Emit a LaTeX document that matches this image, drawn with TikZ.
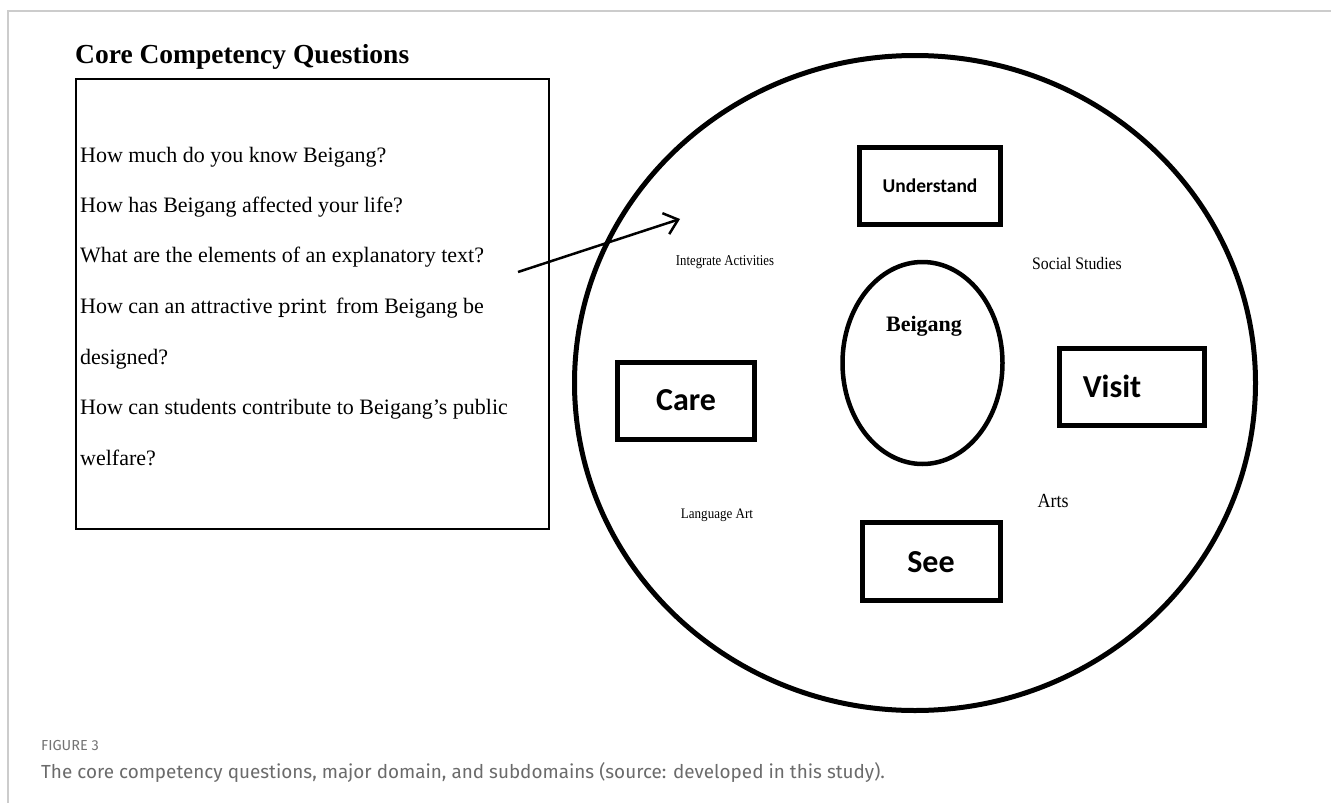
\documentclass[tikz,border=0pt]{standalone}
\usepackage{fontspec}
\setmainfont{Liberation Serif}
\newfontfamily\calfont{Carlito}
\newfontfamily\capfont{Fira Sans}
\newfontfamily\dvsfont{DejaVu Serif}
\usetikzlibrary{arrows.meta,shapes.geometric}
\begin{document}
\begin{tikzpicture}[x=1pt,y=-1pt,
  qline/.style={anchor=base west, inner sep=0pt, font=\fontsize{22}{26}\selectfont},
  dbox/.style={draw, line width=5pt, inner sep=0pt, minimum height=77pt},
  lbl/.style={inner sep=0pt, font=\calfont\bfseries\fontsize{32}{36}\selectfont},
  sublbl/.style={inner sep=0pt, anchor=center}
]
\useasboundingbox (0,0) rectangle (1331,803);
% page frame
\draw[line width=2pt, black!20] (8,803) -- (8,11) -- (1331,11);

% title and questions
\node[anchor=base west, inner sep=0pt, font=\bfseries\fontsize{27.5}{30}\selectfont] (title) at (75,63) {Core Competency Questions};
\node[draw, line width=2pt, minimum width=473pt, minimum height=450pt, inner sep=0pt] (qbox) at (312.5,304) {};
\node[qline] (q1) at (80,162) {How much do you know Beigang?};
\node[qline] (q2) at (80,212) {How has Beigang affected your life?};
\node[qline] (q3) at (80,262) {What are the elements of an explanatory text?};
\node[qline] (q4) at (80,313) {How can an attractive {\dvsfont\fontsize{19.5}{22}\selectfont print}\hspace{4pt} from Beigang be};
\node[qline] (q5) at (80,364) {designed?};
\node[qline] (q6) at (80,414) {How can students contribute to Beigang’s public};
\node[qline] (q7) at (80,465) {welfare?};

% domain circle
\node[draw, ellipse, line width=5pt, minimum width=681pt, minimum height=655pt, inner sep=0pt] (domain) at (915,383) {};
\node[draw, ellipse, line width=4.5pt, minimum width=160pt, minimum height=202pt, inner sep=0pt] (core) at (922.5,363) {};
\node[inner sep=0pt, font=\bfseries\fontsize{22}{26}\selectfont] (corelbl) at (924,326) {Beigang};

% boxes
\node[dbox, minimum width=141pt] (understand) at (930,186) {\calfont\bfseries\fontsize{19.5}{22}\selectfont Understand};
\node[dbox, minimum width=137pt] (care) at (686,401) {};
\node[lbl] (carelbl) at (686,400) {Care};
\node[dbox, minimum width=145pt] (visit) at (1132,387) {};
\node[lbl] (visitlbl) at (1112,386) {Visit};
\node[dbox, minimum width=138pt, minimum height=78pt] (see) at (931.5,561.5) {};
\node[lbl] (seelbl) at (931,562) {See};

% subdomain labels
\node[sublbl] (integ) at (725,262) {\scalebox{0.85}[1]{\fontsize{15}{18}\selectfont Integrate Activities}};
\node[sublbl] (social) at (1077,264) {\scalebox{0.9}[1]{\fontsize{17.5}{20}\selectfont Social Studies}};
\node[sublbl] (lang) at (717,515) {\scalebox{0.9}[1]{\fontsize{14.5}{18}\selectfont Language Art}};
\node[sublbl] (arts) at (1053,501) {\scalebox{0.9}[1]{\fontsize{20}{24}\selectfont Arts}};

% arrow
\coordinate (astart) at (518,272);
\coordinate (aend) at (680,219);
\draw[line width=2.5pt, -{Straight Barb[length=13pt,width=22pt]}] (astart) -- (aend);

% caption
\node[anchor=base west, inner sep=0pt, font=\capfont\fontsize{14.5}{16}\selectfont, text=black!55] (figlabel) at (41,750) {FIGURE 3};
\node[anchor=base west, inner sep=0pt, font=\capfont\fontsize{18.9}{21}\selectfont, text=black!58] (caption) at (41,778) {The core competency questions, major domain, and subdomains (source: developed in this study).};
\end{tikzpicture}
\end{document}
